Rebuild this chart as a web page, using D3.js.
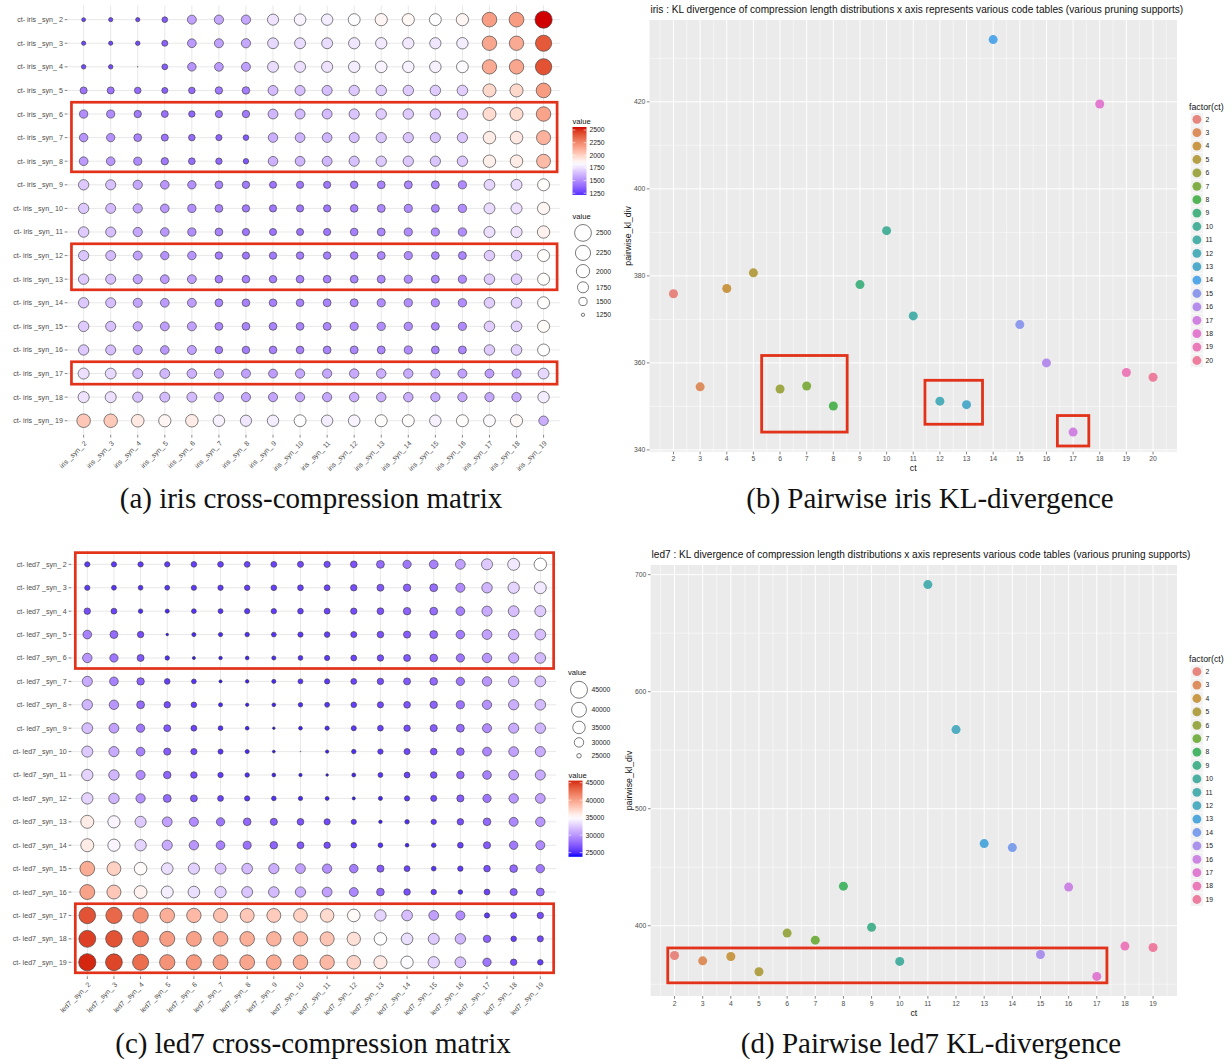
<!DOCTYPE html>
<html>
<head>
<meta charset="utf-8">
<script src="https://cdn.jsdelivr.net/npm/d3@7"></script>
<style>
  body { margin: 0; background: #fff; }
  svg { display: block; }
</style>
</head>
<body>
<script>
// ---- data ----
const synIds = [2, 3, 4, 5, 6, 7, 8, 9, 10, 11, 12, 13, 14, 15, 16, 17, 18, 19];

// rows: ct- iris _syn_ k (2..19), columns: iris _syn_ j (2..19)
const irisMatrix = [
  [1270, 1280, 1280, 1340, 1560, 1580, 1580, 1760, 1810, 1790, 1840, 1880, 1870, 1840, 1880, 2180, 2190, 2560],
  [1280, 1280, 1290, 1360, 1540, 1560, 1580, 1730, 1740, 1740, 1770, 1780, 1780, 1770, 1790, 2150, 2140, 2400],
  [1290, 1290, 1215, 1350, 1520, 1540, 1560, 1740, 1750, 1760, 1790, 1810, 1800, 1800, 1830, 2140, 2150, 2420],
  [1420, 1420, 1390, 1360, 1390, 1440, 1450, 1640, 1650, 1650, 1680, 1690, 1690, 1690, 1700, 1980, 1980, 2190],
  [1500, 1490, 1440, 1410, 1380, 1430, 1440, 1630, 1640, 1640, 1670, 1690, 1690, 1680, 1700, 1970, 1970, 2160],
  [1520, 1510, 1470, 1420, 1390, 1370, 1340, 1600, 1620, 1620, 1650, 1670, 1670, 1660, 1670, 1910, 1920, 2110],
  [1540, 1530, 1490, 1440, 1400, 1380, 1330, 1610, 1620, 1630, 1660, 1680, 1680, 1670, 1680, 1900, 1910, 2080],
  [1680, 1660, 1580, 1530, 1510, 1470, 1440, 1420, 1430, 1430, 1450, 1470, 1480, 1480, 1490, 1720, 1740, 1850],
  [1680, 1640, 1580, 1530, 1500, 1470, 1440, 1430, 1430, 1430, 1460, 1480, 1490, 1480, 1500, 1740, 1750, 1880],
  [1690, 1650, 1580, 1530, 1500, 1470, 1430, 1420, 1420, 1430, 1460, 1480, 1490, 1490, 1500, 1750, 1760, 1890],
  [1670, 1640, 1560, 1510, 1520, 1450, 1430, 1440, 1450, 1450, 1460, 1480, 1490, 1470, 1480, 1690, 1700, 1850],
  [1680, 1650, 1570, 1540, 1550, 1460, 1460, 1450, 1460, 1460, 1470, 1480, 1490, 1480, 1490, 1690, 1700, 1850],
  [1680, 1650, 1570, 1540, 1550, 1470, 1460, 1460, 1460, 1470, 1480, 1490, 1500, 1490, 1500, 1700, 1710, 1850],
  [1690, 1660, 1580, 1550, 1560, 1480, 1470, 1470, 1470, 1480, 1490, 1500, 1500, 1480, 1490, 1700, 1710, 1860],
  [1680, 1650, 1570, 1530, 1560, 1450, 1450, 1460, 1460, 1470, 1480, 1480, 1490, 1470, 1480, 1690, 1710, 1840],
  [1750, 1730, 1640, 1630, 1610, 1580, 1560, 1550, 1580, 1580, 1590, 1600, 1590, 1560, 1560, 1550, 1570, 1730],
  [1760, 1750, 1660, 1640, 1640, 1580, 1570, 1570, 1580, 1580, 1600, 1600, 1600, 1580, 1580, 1580, 1590, 1790],
  [2040, 2030, 1920, 1880, 1910, 1800, 1770, 1790, 1840, 1790, 1810, 1850, 1850, 1800, 1850, 1830, 1870, 1600]
];

const led7Matrix = [
  [25500, 25500, 25600, 25600, 25800, 25900, 26000, 26000, 26200, 26400, 26800, 28000, 28500, 29000, 30500, 32500, 34000, 35000],
  [25500, 25300, 25200, 25300, 25500, 25600, 25700, 25800, 25900, 26000, 26500, 27000, 27500, 28000, 29500, 31500, 33000, 34000],
  [26500, 26000, 25000, 24800, 25200, 25300, 25500, 25600, 25800, 26000, 26400, 26800, 27500, 28000, 29000, 31000, 32000, 32500],
  [29000, 28000, 26500, 24100, 24800, 24900, 25000, 25200, 25500, 25800, 26200, 26700, 27200, 28000, 28800, 30500, 31500, 32000],
  [30000, 28500, 27000, 25000, 24300, 24500, 24600, 24800, 25200, 25500, 26000, 26500, 27000, 27800, 28500, 30000, 31200, 31800],
  [31000, 29000, 27500, 25800, 25200, 24300, 24500, 24800, 25300, 25500, 26000, 26500, 27000, 27800, 28500, 30000, 31500, 32000],
  [31500, 30000, 28000, 26500, 25800, 24800, 24400, 24600, 25000, 25300, 25800, 26300, 26800, 27500, 28300, 29800, 31200, 31800],
  [32000, 30500, 28500, 27000, 26000, 25200, 24600, 24100, 24600, 24900, 25400, 25900, 26500, 27200, 28000, 29500, 31000, 31500],
  [32500, 31000, 29000, 27200, 26300, 25400, 24800, 24200, 23800, 24400, 25000, 25600, 26200, 26800, 27800, 29200, 30500, 31000],
  [33000, 31500, 29500, 27600, 26600, 25600, 25000, 24600, 24400, 24100, 24700, 25300, 26000, 26700, 27700, 29000, 30500, 31000],
  [33000, 31500, 29800, 28000, 27000, 26000, 25500, 25100, 24900, 24700, 24300, 24800, 25500, 26200, 27200, 28500, 30000, 30500],
  [36000, 34500, 32500, 30500, 29500, 28500, 27800, 27200, 26800, 26300, 25500, 24500, 25000, 25600, 26600, 27800, 29300, 30000],
  [36000, 34500, 33000, 31000, 30000, 29000, 28200, 27600, 27000, 26500, 25800, 25200, 24600, 25100, 25900, 27200, 28600, 29400],
  [39500, 37500, 35200, 33500, 32800, 32200, 31800, 31200, 30500, 29800, 28800, 27200, 26000, 25200, 25600, 26600, 27800, 28600],
  [40000, 38000, 35700, 34200, 33500, 32800, 32300, 31800, 31200, 30500, 29300, 27800, 26600, 25700, 25100, 26000, 27200, 28000],
  [44000, 43000, 41000, 39300, 38800, 38400, 38000, 37800, 37500, 37000, 35300, 33000, 32000, 30500, 29500, 25500, 26200, 26500],
  [44800, 44000, 42200, 40300, 40000, 39600, 39300, 39100, 38800, 38200, 36600, 35000, 33500, 32500, 31500, 27500, 25800, 26300],
  [45600, 44500, 42700, 40800, 40500, 40100, 39800, 39600, 39300, 38800, 37300, 36200, 34800, 33000, 32000, 28500, 26500, 25800]
];

const irisSizeBreaks = [2500, 2250, 2000, 1750, 1500, 1250];
const irisColorBreaks = [1250, 1500, 1750, 2000, 2250, 2500];
const led7SizeBreaks = [45000, 40000, 35000, 30000, 25000];
const led7ColorBreaks = [25000, 30000, 35000, 40000, 45000];

// highlighted row groups in the matrices
const irisMatrixBoxes = [[6, 8], [12, 13], [17, 17]];
const led7MatrixBoxes = [[2, 6], [17, 19]];

const irisCt = [2, 3, 4, 5, 6, 7, 8, 9, 10, 11, 12, 13, 14, 15, 16, 17, 18, 19, 20];
const irisKl = [375.9, 354.5, 377.1, 380.7, 354.0, 354.7, 350.1, 378.0, 390.4, 370.8, 351.2, 350.4, 434.3, 368.8, 360.0, 344.1, 419.5, 357.8, 356.7];
const irisKlBreaks = [340, 360, 380, 400, 420];
const irisKlBoxes = [
  { ct: [5.31, 8.52], kl: [344.1, 361.7] },
  { ct: [11.44, 13.6], kl: [345.9, 356.0] },
  { ct: [16.41, 17.59], kl: [340.9, 347.9] }
];

const led7Ct = [2, 3, 4, 5, 6, 7, 8, 9, 10, 11, 12, 13, 14, 15, 16, 17, 18, 19];
const led7Kl = [374.6, 370.0, 373.7, 360.7, 393.7, 387.7, 433.8, 398.6, 369.5, 691.5, 567.6, 470.2, 466.8, 375.4, 433.0, 356.7, 382.6, 381.4];
const led7KlBreaks = [400, 500, 600, 700];
const led7KlBoxes = [
  { ct: [1.76, 17.36], kl: [351.2, 381.0] }
];

const klTitleIris = 'iris : KL divergence of compression length distributions x axis represents various code tables (various pruning supports)';
const klTitleLed7 = 'led7 : KL divergence of compression length distributions x axis represents various code tables (various pruning supports)';

// ---- setup ----
const W = 1231, H = 1059;
const SANS = '"Liberation Sans", Arial, sans-serif';
const SERIF = '"Liberation Serif", "Times New Roman", serif';
const BOX_RED = '#e2321a';

const svg = d3.select('body').append('svg')
  .attr('width', W)
  .attr('height', H);
svg.append('rect').attr('width', W).attr('height', H).attr('fill', '#fff');
const defs = svg.append('defs');

// polar LUV -> linear sRGB
function luvLinear(h, c, l) {
  const hr = h * Math.PI / 180;
  const u = c * Math.cos(hr), v = c * Math.sin(hr);
  const Xn = 95.047, Yn = 100, Zn = 108.883;
  const Y = l > 8 ? Yn * Math.pow((l + 16) / 116, 3) : Yn * l / 903.3;
  const den = Xn + 15 * Yn + 3 * Zn;
  const up = u / (13 * l) + 4 * Xn / den;
  const vp = v / (13 * l) + 9 * Yn / den;
  const X = Y * 9 * up / (4 * vp);
  const Z = Y * (12 - 3 * up - 20 * vp) / (4 * vp);
  const x = X / 100, y = Y / 100, z = Z / 100;
  return [
    3.2404542 * x - 1.5371385 * y - 0.4985314 * z,
    -0.9692660 * x + 1.8760108 * y + 0.0415560 * z,
    0.0556434 * x - 0.2040259 * y + 1.0572252 * z
  ];
}
// hue palette: chroma kept a little inside the sRGB gamut edge
function luvColor(h, c, l) {
  const ok = cc => luvLinear(h, cc, l).every(k => k >= 0 && k <= 1);
  let cmax = 0;
  while (cmax < 150 && ok(cmax + 1)) cmax += 1;
  const cc = Math.min(c, 0.8 * cmax);
  const g = luvLinear(h, cc, l).map(k => k <= 0.0031308 ? 12.92 * k : 1.055 * Math.pow(Math.max(k, 0), 1 / 2.4) - 0.055);
  return d3.rgb(g[0] * 255, g[1] * 255, g[2] * 255).formatHex();
}
function huePal(n) {
  return d3.range(n).map(i => luvColor(15 + 360 * i / n, 72, 66));
}

// ---- matrix panels ----
function drawMatrix(o) {
  const g = svg.append('g');
  const x = d3.scalePoint().domain(synIds).range([o.left, o.right]).padding(0.6);
  const y = d3.scalePoint().domain(synIds).range([o.top, o.bottom]).padding(0.6);

  const cells = o.values.flatMap((row, i) => row.map((v, j) => ({ row: synIds[i], col: synIds[j], v })));
  const [lo, hi] = d3.extent(cells, d => d.v);
  const reach = Math.max(hi - o.mid, o.mid - lo);
  const color = d3.scaleLinear()
    .domain([o.mid - reach, o.mid, o.mid + reach])
    .range(['#0000ff', '#ffffff', '#d00000'])
    .interpolate(d3.interpolateLab);
  const size = d3.scaleSqrt().domain([0, hi - lo]).range([0.3, 8.6]);
  const rad = v => size(Math.max(0, v - lo));

  // grid
  g.append('g').selectAll('line').data(synIds).join('line')
    .attr('x1', d => x(d)).attr('x2', d => x(d))
    .attr('y1', o.top).attr('y2', o.bottom)
    .attr('stroke', '#e8e8e8').attr('stroke-width', 1);
  g.append('g').selectAll('line').data(synIds).join('line')
    .attr('y1', d => y(d)).attr('y2', d => y(d))
    .attr('x1', o.left).attr('x2', o.right)
    .attr('stroke', '#e8e8e8').attr('stroke-width', 1);

  // y axis
  const ya = g.append('g');
  ya.selectAll('line').data(synIds).join('line')
    .attr('x1', o.left - 2.7).attr('x2', o.left)
    .attr('y1', d => y(d)).attr('y2', d => y(d))
    .attr('stroke', '#333').attr('stroke-width', 0.6);
  ya.selectAll('text').data(synIds).join('text')
    .attr('x', o.left - 4.5).attr('y', d => y(d)).attr('dy', '0.35em')
    .attr('text-anchor', 'end')
    .attr('font-family', SANS).attr('font-size', 7.1).attr('fill', '#4d4d4d')
    .text(d => `ct- ${o.name} _syn_ ${d}`);

  // x axis
  const xa = g.append('g');
  xa.selectAll('line').data(synIds).join('line')
    .attr('x1', d => x(d)).attr('x2', d => x(d))
    .attr('y1', o.bottom).attr('y2', o.bottom + 2.7)
    .attr('stroke', '#333').attr('stroke-width', 0.6);
  xa.selectAll('text').data(synIds).join('text')
    .attr('transform', d => `translate(${x(d) + 2},${o.bottom + 7}) rotate(-45)`)
    .attr('text-anchor', 'end').attr('dy', '0.35em')
    .attr('font-family', SANS).attr('font-size', 7).attr('fill', '#4d4d4d')
    .text(d => `${o.name} _syn_ ${d}`);

  // points
  g.append('g').selectAll('circle').data(cells).join('circle')
    .attr('cx', d => x(d.col)).attr('cy', d => y(d.row))
    .attr('r', d => rad(d.v))
    .attr('fill', d => color(d.v))
    .attr('stroke', '#404040').attr('stroke-width', 0.65);

  // highlight boxes
  const sx = x.step(), sy = y.step();
  g.append('g').selectAll('rect').data(o.boxes).join('rect')
    .attr('x', x(synIds[0]) - 0.45 * sx)
    .attr('width', x(synIds[synIds.length - 1]) - x(synIds[0]) + 0.95 * sx)
    .attr('y', d => y(d[0]) - 0.5 * sy)
    .attr('height', d => y(d[1]) - y(d[0]) + 0.95 * sy)
    .attr('fill', 'none').attr('stroke', BOX_RED).attr('stroke-width', 2.7);

  // colour bar legend
  const cb = o.colorbar;
  const gid = 'grad-' + o.name;
  const grad = defs.append('linearGradient').attr('id', gid)
    .attr('x1', 0).attr('y1', 1).attr('x2', 0).attr('y2', 0);
  d3.range(0, 21).forEach(k => {
    grad.append('stop').attr('offset', k / 20).attr('stop-color', color(lo + (hi - lo) * k / 20));
  });
  const barY = d3.scaleLinear().domain([lo, hi]).range([cb.top + cb.len, cb.top]);
  const lg = g.append('g');
  lg.append('text').attr('x', cb.x).attr('y', cb.top - 3)
    .attr('font-family', SANS).attr('font-size', 7.6).attr('fill', '#111').text('value');
  lg.append('rect').attr('x', cb.x).attr('y', cb.top).attr('width', 14).attr('height', cb.len)
    .attr('fill', `url(#${gid})`);
  lg.selectAll('line.tk').data(o.colorBreaks).join('line').attr('class', 'tk')
    .attr('x1', cb.x).attr('x2', cb.x + 2.8)
    .attr('y1', d => barY(d)).attr('y2', d => barY(d))
    .attr('stroke', '#fff').attr('stroke-width', 0.6);
  lg.selectAll('line.tk2').data(o.colorBreaks).join('line').attr('class', 'tk2')
    .attr('x1', cb.x + 11.2).attr('x2', cb.x + 14)
    .attr('y1', d => barY(d)).attr('y2', d => barY(d))
    .attr('stroke', '#fff').attr('stroke-width', 0.6);
  lg.selectAll('text.lb').data(o.colorBreaks).join('text').attr('class', 'lb')
    .attr('x', cb.x + 17).attr('y', d => barY(d)).attr('dy', '0.35em')
    .attr('font-family', SANS).attr('font-size', 6.8).attr('fill', '#222')
    .text(d => d);

  // size legend
  const sl = o.sizeLegend;
  const sg = g.append('g');
  sg.append('text').attr('x', sl.titleX).attr('y', sl.top - 4)
    .attr('font-family', SANS).attr('font-size', 7.6).attr('fill', '#111').text('value');
  let yy = sl.top;
  const keys = o.sizeBreaks.map(v => {
    const r = rad(v);
    const h = Math.max(2 * r + 4, 13.3);
    const k = { v, r, cy: yy + h / 2 };
    yy += h;
    return k;
  });
  sg.selectAll('circle').data(keys).join('circle')
    .attr('cx', sl.cx).attr('cy', d => d.cy).attr('r', d => d.r)
    .attr('fill', 'none').attr('stroke', '#222').attr('stroke-width', 0.6);
  sg.selectAll('text.lb').data(keys).join('text').attr('class', 'lb')
    .attr('x', sl.labelX).attr('y', d => d.cy).attr('dy', '0.35em')
    .attr('font-family', SANS).attr('font-size', 6.8).attr('fill', '#222')
    .text(d => d.v);
}

// ---- scatter panels ----
function drawScatter(o) {
  const g = svg.append('g');
  const expand = e => { const d = (e[1] - e[0]) * 0.05; return [e[0] - d, e[1] + d]; };
  const x = d3.scaleLinear().domain(expand(d3.extent(o.ct))).range([o.left, o.right]);
  const y = d3.scaleLinear().domain(expand(d3.extent(o.kl))).range([o.bottom, o.top]);
  const colors = huePal(o.ct.length);
  const inX = v => v > x.domain()[0] && v < x.domain()[1];
  const inY = v => v > y.domain()[0] && v < y.domain()[1];

  g.append('rect').attr('x', o.left).attr('y', o.top)
    .attr('width', o.right - o.left).attr('height', o.bottom - o.top)
    .attr('fill', '#ebebeb');

  const xMinor = [o.ct[0] - 0.5].concat(o.ct.map(c => c + 0.5)).filter(inX);
  const yStep = o.yBreaks[1] - o.yBreaks[0];
  const yMinor = [o.yBreaks[0] - yStep / 2].concat(o.yBreaks.map(b => b + yStep / 2)).filter(inY);

  const grid = g.append('g').attr('stroke', '#fff');
  grid.selectAll('line.xm').data(xMinor).join('line').attr('class', 'xm')
    .attr('x1', d => x(d)).attr('x2', d => x(d)).attr('y1', o.top).attr('y2', o.bottom)
    .attr('stroke-width', 0.5);
  grid.selectAll('line.ym').data(yMinor).join('line').attr('class', 'ym')
    .attr('y1', d => y(d)).attr('y2', d => y(d)).attr('x1', o.left).attr('x2', o.right)
    .attr('stroke-width', 0.5);
  grid.selectAll('line.xM').data(o.ct).join('line').attr('class', 'xM')
    .attr('x1', d => x(d)).attr('x2', d => x(d)).attr('y1', o.top).attr('y2', o.bottom)
    .attr('stroke-width', 1);
  grid.selectAll('line.yM').data(o.yBreaks).join('line').attr('class', 'yM')
    .attr('y1', d => y(d)).attr('y2', d => y(d)).attr('x1', o.left).attr('x2', o.right)
    .attr('stroke-width', 1);

  // points
  g.append('g').selectAll('circle').data(o.ct).join('circle')
    .attr('cx', d => x(d)).attr('cy', (d, i) => y(o.kl[i]))
    .attr('r', 4.5).attr('fill', (d, i) => colors[i]);

  // boxes
  g.append('g').selectAll('rect').data(o.boxes).join('rect')
    .attr('x', d => x(d.ct[0])).attr('width', d => x(d.ct[1]) - x(d.ct[0]))
    .attr('y', d => y(d.kl[1])).attr('height', d => y(d.kl[0]) - y(d.kl[1]))
    .attr('fill', 'none').attr('stroke', BOX_RED).attr('stroke-width', 2.8);

  // axes
  const ax = g.append('g');
  ax.selectAll('line.xt').data(o.ct).join('line').attr('class', 'xt')
    .attr('x1', d => x(d)).attr('x2', d => x(d)).attr('y1', o.bottom).attr('y2', o.bottom + 2.7)
    .attr('stroke', '#333').attr('stroke-width', 0.6);
  ax.selectAll('text.xt').data(o.ct).join('text').attr('class', 'xt')
    .attr('x', d => x(d)).attr('y', o.bottom + 9.5).attr('text-anchor', 'middle')
    .attr('font-family', SANS).attr('font-size', 6.8).attr('fill', '#4d4d4d')
    .text(d => d);
  ax.selectAll('line.yt').data(o.yBreaks).join('line').attr('class', 'yt')
    .attr('y1', d => y(d)).attr('y2', d => y(d)).attr('x1', o.left - 2.7).attr('x2', o.left)
    .attr('stroke', '#333').attr('stroke-width', 0.6);
  ax.selectAll('text.yt').data(o.yBreaks).join('text').attr('class', 'yt')
    .attr('x', o.left - 4.2).attr('y', d => y(d)).attr('dy', '0.35em').attr('text-anchor', 'end')
    .attr('font-family', SANS).attr('font-size', 6.8).attr('fill', '#4d4d4d')
    .text(d => d);

  ax.append('text').attr('x', (o.left + o.right) / 2).attr('y', o.bottom + 19.5)
    .attr('text-anchor', 'middle').attr('font-family', SANS).attr('font-size', 8.8).attr('fill', '#111')
    .text('ct');
  ax.append('text')
    .attr('transform', `translate(${o.left - 19},${(o.top + o.bottom) / 2}) rotate(-90)`)
    .attr('text-anchor', 'middle').attr('font-family', SANS).attr('font-size', 8.8).attr('fill', '#111')
    .text('pairwise_kl_div');
  ax.append('text').attr('x', o.left + 1).attr('y', o.top - 7)
    .attr('font-family', SANS).attr('font-size', 10.1).attr('fill', '#111')
    .text(o.title);

  // legend
  const lg = g.append('g');
  lg.append('text').attr('x', o.legX).attr('y', o.legTop - 9.5)
    .attr('font-family', SANS).attr('font-size', 8.8).attr('fill', '#111').text('factor(ct)');
  const ky = (d, i) => o.legTop + i * 13.4;
  lg.selectAll('rect').data(o.ct).join('rect')
    .attr('x', o.legX + 1.5).attr('y', (d, i) => ky(d, i) - 6.7)
    .attr('width', 12.8).attr('height', 13.4)
    .attr('fill', '#f2f2f2').attr('stroke', '#fff').attr('stroke-width', 0.5);
  lg.selectAll('circle').data(o.ct).join('circle')
    .attr('cx', o.legX + 7.9).attr('cy', (d, i) => ky(d, i)).attr('r', 4.4)
    .attr('fill', (d, i) => colors[i]);
  lg.selectAll('text.lb').data(o.ct).join('text').attr('class', 'lb')
    .attr('x', o.legX + 16.5).attr('y', (d, i) => ky(d, i)).attr('dy', '0.35em')
    .attr('font-family', SANS).attr('font-size', 6.8).attr('fill', '#222')
    .text(d => d);
}

drawMatrix({
  name: 'iris', values: irisMatrix, mid: 1845,
  left: 67.4, right: 559.8, top: 5.5, bottom: 434.9,
  boxes: irisMatrixBoxes,
  colorBreaks: irisColorBreaks, sizeBreaks: irisSizeBreaks,
  colorbar: { x: 572.5, top: 127, len: 68 },
  sizeLegend: { titleX: 572.5, top: 222.5, cx: 583, labelX: 596 }
});

drawMatrix({
  name: 'led7', values: led7Matrix, mid: 35000,
  left: 71.3, right: 556.3, top: 550.3, bottom: 976.3,
  boxes: led7MatrixBoxes,
  colorBreaks: led7ColorBreaks, sizeBreaks: led7SizeBreaks,
  colorbar: { x: 568.5, top: 780.6, len: 76.2 },
  sizeLegend: { titleX: 568, top: 679.3, cx: 579, labelX: 591.5 }
});

drawScatter({
  ct: irisCt, kl: irisKl, yBreaks: irisKlBreaks, boxes: irisKlBoxes, title: klTitleIris,
  left: 649.5, right: 1177, top: 20, bottom: 451.7,
  legX: 1189, legTop: 119.3
});

drawScatter({
  ct: led7Ct, kl: led7Kl, yBreaks: led7KlBreaks, boxes: led7KlBoxes, title: klTitleLed7,
  left: 650.6, right: 1177, top: 565, bottom: 996,
  legX: 1189, legTop: 671.7
});

// captions
const captions = [
  { text: '(a) iris cross-compression matrix', x: 311, y: 508 },
  { text: '(b) Pairwise iris KL-divergence', x: 930, y: 508 },
  { text: '(c) led7 cross-compression matrix', x: 313, y: 1053 },
  { text: '(d) Pairwise led7 KL-divergence', x: 931, y: 1053 }
];
svg.append('g').selectAll('text').data(captions).join('text')
  .attr('x', d => d.x).attr('y', d => d.y)
  .attr('text-anchor', 'middle')
  .attr('font-family', SERIF).attr('font-size', 29).attr('fill', '#111')
  .text(d => d.text);
</script>
</body>
</html>
